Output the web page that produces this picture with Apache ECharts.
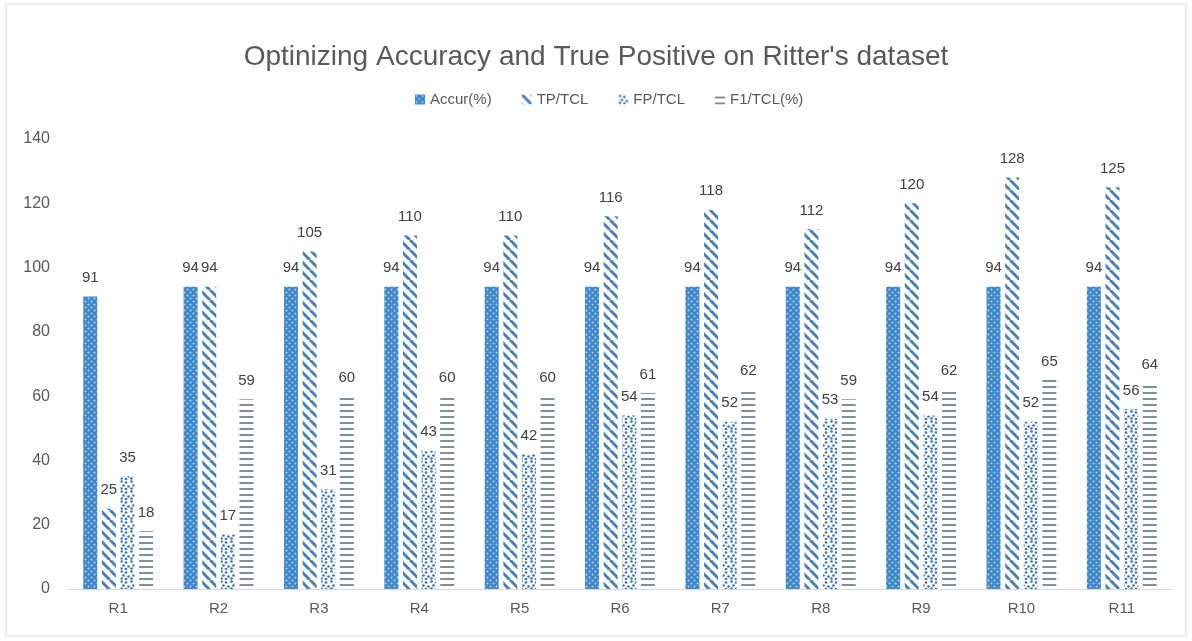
<!DOCTYPE html>
<html>
<head>
<meta charset="utf-8">
<script src="https://cdn.jsdelivr.net/npm/echarts@6/dist/echarts.min.js"></script>
<style>html,body{margin:0;padding:0;background:#fff}#c{width:1192px;height:641px}</style>
</head>
<body>
<div id="c"></div>
<script>
const categories = ['R1','R2','R3','R4','R5','R6','R7','R8','R9','R10','R11'];
const accur = [91,94,94,94,94,94,94,94,94,94,94];
const tpTcl = [25,94,105,110,110,116,118,112,120,128,125];
const fpTcl = [35,17,31,43,42,54,52,53,54,52,56];
const f1Tcl = [18,59,60,60,60,61,62,59,62,65,64];
const yTicks = [0,20,40,60,80,100,120,140];

function mk(w,h,draw){const c=document.createElement('canvas');c.width=w;c.height=h;const g=c.getContext('2d');draw(g);return {image:c,repeat:'repeat'};}
const patAccur = mk(6,6,g=>{g.fillStyle='#3f87c8';g.fillRect(0,0,6,6);g.fillStyle='#b4d4f0';
  g.beginPath();g.arc(1.5,1.5,1,0,Math.PI*2);g.fill();g.beginPath();g.arc(4.5,4.5,1,0,Math.PI*2);g.fill();});
const patTP = mk(10,10,g=>{g.fillStyle='#ffffff';g.fillRect(0,0,10,10);g.strokeStyle='#4a80b6';g.lineWidth=3;
  for(const x of [-10,0,10]){g.beginPath();g.moveTo(x,0);g.lineTo(x+10,10);g.stroke();}});
const patFP = mk(10,10,g=>{g.fillStyle='#ffffff';g.fillRect(0,0,10,10);g.fillStyle='#3f74a8';
  [[1.5,1.5],[6,2.5],[3.5,5.5],[8.5,6.5],[1.5,8.5],[6,9]].forEach(p=>{g.beginPath();g.arc(p[0],p[1],1.35,0,Math.PI*2);g.fill();});});
const patF1 = mk(6,6,g=>{g.fillStyle='#ffffff';g.fillRect(0,0,6,6);g.fillStyle='#7f8fa0';g.fillRect(0,2,6,2);});

const labelStyle = {show:true,position:'top',distance:11,color:'#404040',fontSize:15,fontFamily:'Liberation Sans'};
function ser(name,data,pat){return {name,type:'bar',data,barWidth:14,barGap:'33%',itemStyle:{color:pat},label:labelStyle,emphasis:{disabled:true}};}

const chart = echarts.init(document.getElementById('c'));
chart.setOption({
  animation:false,
  backgroundColor:'#ffffff',
  title:{text:"Optinizing Accuracy and True Positive on Ritter's dataset",left:'center',top:38,
    textStyle:{fontFamily:'Liberation Sans',fontSize:28,fontWeight:'normal',color:'#595959'}},
  legend:{top:87,left:410,itemWidth:10,itemHeight:10,itemGap:30,icon:'rect',
    textStyle:{fontFamily:'Liberation Sans',fontSize:15,color:'#595959'},
    data:['Accur(%)','TP/TCL','FP/TCL','F1/TCL(%)']},
  grid:{left:68,right:20,top:139,bottom:52,containLabel:false},
  xAxis:{type:'category',data:categories,axisLine:{lineStyle:{color:'#d9d9d9'}},axisTick:{show:false},
    axisLabel:{color:'#595959',fontSize:15,fontFamily:'Liberation Sans',margin:12}},
  yAxis:{type:'value',min:yTicks[0],max:yTicks[yTicks.length-1],interval:20,splitLine:{show:false},
    axisLine:{show:false},axisTick:{show:false},
    axisLabel:{color:'#595959',fontSize:16,fontFamily:'Liberation Sans',margin:18}},
  graphic:[{type:'rect',shape:{x:6,y:4,width:1180,height:632},style:{fill:'none',stroke:'#d9d9d9',lineWidth:1},silent:true}],
  series:[ser('Accur(%)',accur,patAccur),ser('TP/TCL',tpTcl,patTP),ser('FP/TCL',fpTcl,patFP),ser('F1/TCL(%)',f1Tcl,patF1)]
});
</script>
</body>
</html>
